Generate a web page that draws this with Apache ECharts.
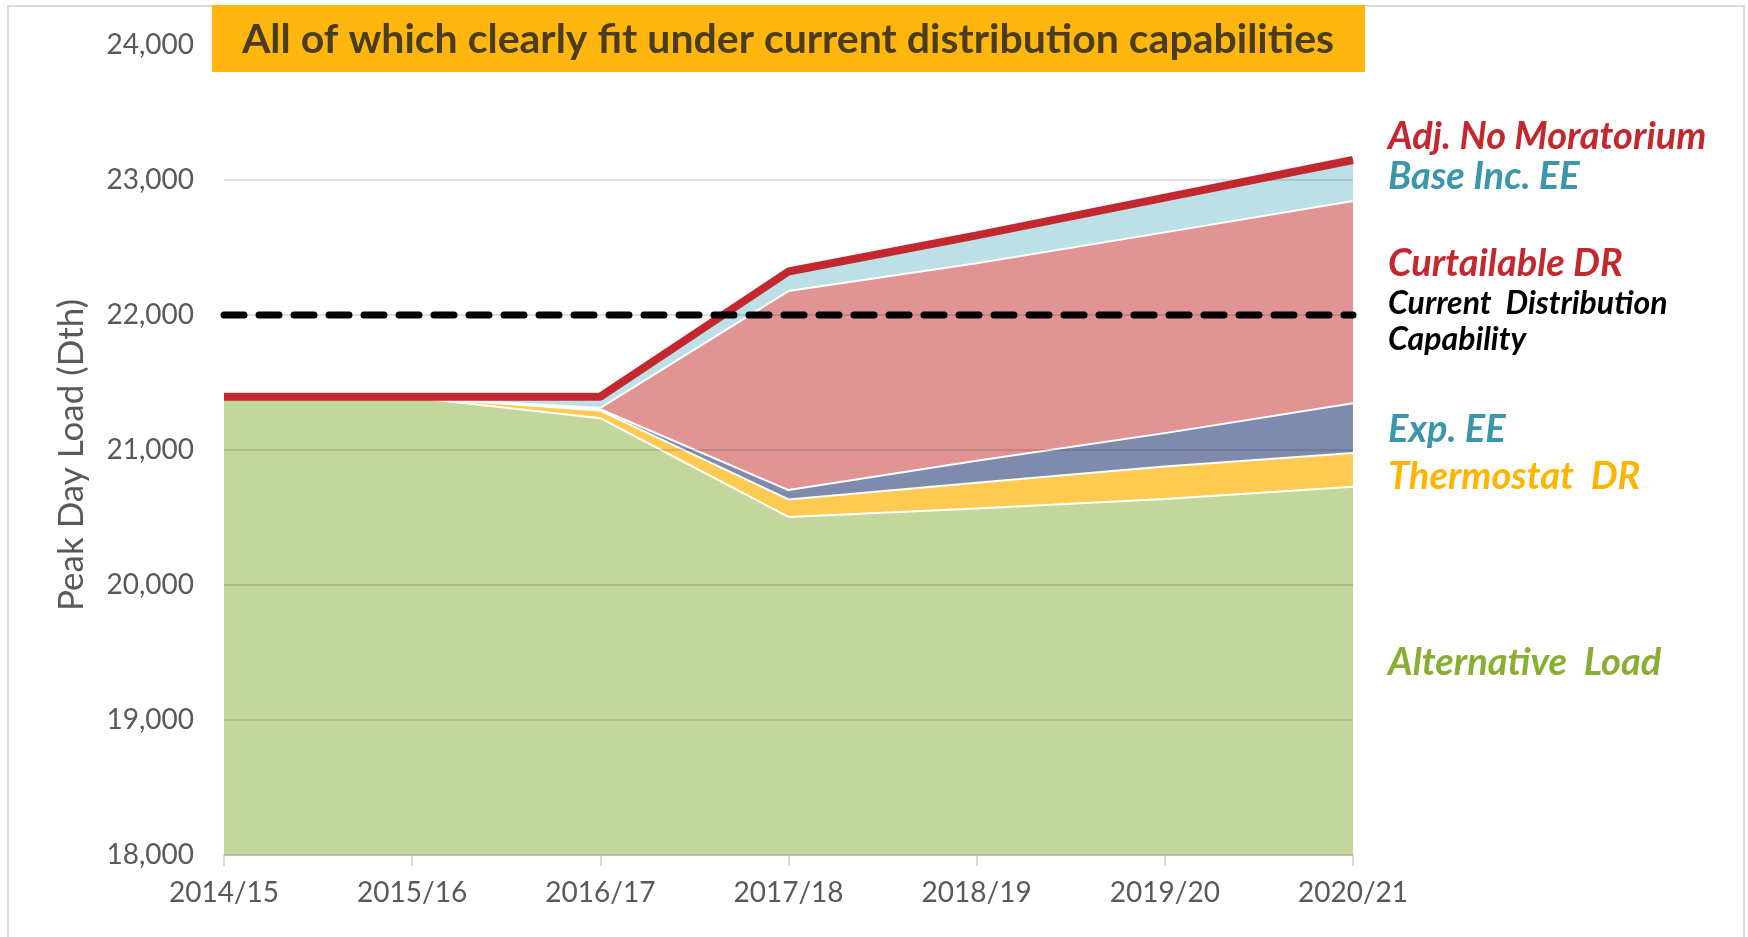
<!DOCTYPE html>
<html>
<head>
<meta charset="utf-8">
<script src="https://cdn.jsdelivr.net/npm/echarts@6/dist/echarts.min.js"></script>
<style>
html, body { margin: 0; padding: 0; background: #fff; }
#chart { width: 1748px; height: 937px; }
</style>
</head>
<body>
<div id="chart"></div>
<script>
var categories = ['2014/15', '2015/16', '2016/17', '2017/18', '2018/19', '2019/20', '2020/21'];
// stacked layers (increments), bottom to top
var alternativeLoad = [21390, 21390, 21236, 20504, 20567, 20637, 20727];
var thermostatDR = [0, 0, 56, 130, 190, 240, 251];
var expEE = [0, 0, 10, 69, 164, 248, 368];
var curtailableDR = [0, 0, 10, 1474, 1463, 1487, 1499];
var baseIncEE = [0, 0, 63, 123, 191, 248, 290];
// lines
var adjNoMoratorium = [21395, 21395, 21395, 22322, 22590, 22870, 23148];
var capability = [22000, 22000, 22000, 22000, 22000, 22000, 22000];
var yTicks = [18000, 19000, 20000, 21000, 22000, 23000, 24000];

var chart = echarts.init(document.getElementById('chart'));
var labelFont = 'Lato, "Open Sans", sans-serif';

function area(name, data, color) {
	return {
		name: name,
		type: 'line',
		stack: 'load',
		data: data,
		symbol: 'none',
		z: 2,
		lineStyle: { color: '#fff', width: 2 },
		areaStyle: { color: color, opacity: 1 }
	};
}

// y = where the middle of the capitals should sit
function sideLabel(text, y, color, size) {
	return {
		type: 'text',
		left: 1388,
		top: y - size * 0.43,
		z: 10,
		style: {
			text: text,
			fill: color,
			font: 'italic bold ' + size + 'px ' + labelFont
		}
	};
}

var option = {
	backgroundColor: '#fff',
	animation: false,
	grid: { left: 224, right: 395, top: 45, bottom: 82 },
	xAxis: {
		type: 'category',
		boundaryGap: false,
		data: categories,
		axisLine: { lineStyle: { color: '#D9D9D9', width: 2 } },
		axisTick: { show: true, length: 11, lineStyle: { color: '#D9D9D9', width: 2 } },
		axisLabel: { margin: 24, fontSize: 28, color: '#595959', fontFamily: labelFont }
	},
	yAxis: {
		type: 'value',
		min: yTicks[0],
		max: yTicks[yTicks.length - 1],
		interval: 1000,
		z: 3,
		axisLine: { show: false },
		axisTick: { show: false },
		axisLabel: {
			margin: 30,
			fontSize: 28,
			color: '#595959',
			fontFamily: labelFont,
			formatter: function (v) { return v.toLocaleString('en-US'); }
		},
		splitLine: { lineStyle: { color: 'rgba(0,0,0,0.12)', width: 2 } }
	},
	series: [
		area('Alternative Load', alternativeLoad, '#C3D69B'),
		area('Thermostat DR', thermostatDR, '#FECB52'),
		area('Exp. EE', expEE, '#7F8BAD'),
		area('Curtailable DR', curtailableDR, '#E09494'),
		area('Base Inc. EE', baseIncEE, '#BDE0E6'),
		{
			name: 'Adj. No Moratorium',
			type: 'line',
			data: adjNoMoratorium,
			symbol: 'none',
			z: 4,
			lineStyle: { color: '#C3282E', width: 8 }
		},
		{
			name: 'Current Distribution Capability',
			type: 'line',
			data: capability,
			symbol: 'none',
			z: 5,
			lineStyle: { color: '#000', width: 7, type: [20, 15], cap: 'round' }
		}
	],
	graphic: [
		{
			type: 'rect',
			shape: { x: 8, y: 6, width: 1736, height: 980 },
			z: -1,
			style: { fill: 'none', stroke: '#D9D9D9', lineWidth: 2 }
		},
		{
			type: 'rect',
			shape: { x: 212, y: 5, width: 1153, height: 67 },
			z: 9,
			style: { fill: '#FFB710' }
		},
		{
			type: 'text',
			x: 788,
			y: 40,
			z: 10,
			style: {
				text: 'All of which clearly fit under current distribution capabilities',
				fill: '#4B3C1E',
				font: 'bold 41px ' + labelFont,
				align: 'center',
				verticalAlign: 'middle'
			}
		},
		{
			type: 'text',
			x: 72,
			y: 455,
			rotation: Math.PI / 2,
			z: 10,
			style: {
				text: 'Peak Day Load (Dth)',
				fill: '#595959',
				font: '35px ' + labelFont,
				align: 'center',
				verticalAlign: 'middle'
			}
		},
		sideLabel('Adj. No Moratorium', 134, '#C3282E', 38),
		sideLabel('Base Inc. EE', 174, '#3A96AB', 38),
		sideLabel('Curtailable DR', 261, '#C3282E', 38),
		sideLabel('Current  Distribution', 301, '#000', 32),
		sideLabel('Capability', 337, '#000', 32),
		sideLabel('Exp. EE', 427, '#3A96AB', 38),
		sideLabel('Thermostat  DR', 474, '#FFB400', 38),
		sideLabel('Alternative  Load', 660, '#88AE33', 38)
	]
};

chart.setOption(option);
window.onresize = function () {
	chart.resize();
};
</script>
</body>
</html>
